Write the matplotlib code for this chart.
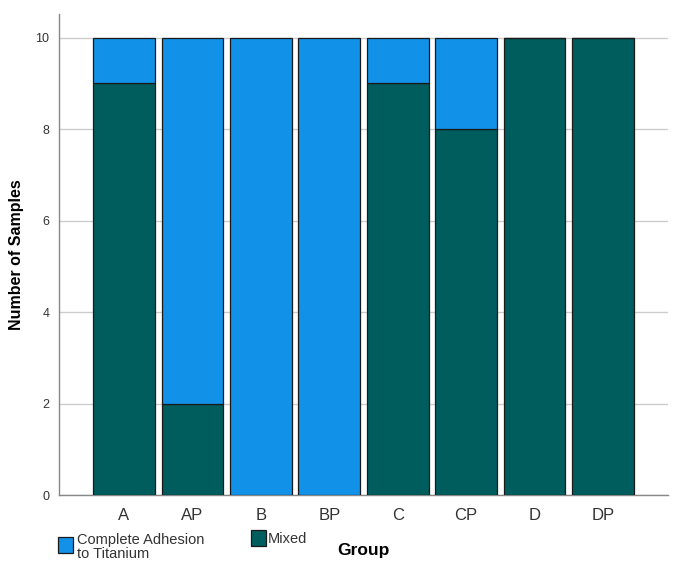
import numpy as np
import matplotlib
matplotlib.use("Agg")
import matplotlib.pyplot as plt
from matplotlib.patches import Rectangle

plt.rcParams['font.family'] = ['Liberation Sans', 'DejaVu Sans']

groups = ['A', 'AP', 'B', 'BP', 'C', 'CP', 'D', 'DP']
mixed = [9, 2, 0, 0, 9, 8, 10, 10]
complete = [1, 8, 10, 10, 1, 2, 0, 0]

c_complete = '#1192e8'
c_mixed = '#005d5d'

fig = plt.figure(figsize=(6.85, 5.72), dpi=100)
ax = fig.add_axes([59 / 685, 1 - 495 / 572, 609 / 685, 481 / 572])

x = np.arange(len(groups))
ax.bar(x, mixed, width=0.9, color=c_mixed, edgecolor='#1a1a1a', linewidth=0.9, zorder=3)
ax.bar(x, complete, width=0.9, bottom=mixed, color=c_complete, edgecolor='#1a1a1a',
       linewidth=0.9, zorder=3)

ax.set_xlim(-0.95, len(groups) - 0.05)
ax.set_ylim(0, 10.52)
ax.set_yticks([0, 2, 4, 6, 8, 10])
ax.set_xticks(x)
ax.set_xticklabels(groups, fontsize=12, color='#333333')
ax.tick_params(axis='y', length=0, labelsize=9, pad=7, labelcolor='#333333')
ax.tick_params(axis='x', length=0, pad=9)
ax.grid(axis='y', color='#cccccc', linewidth=1, zorder=0)

for s in ['top', 'right']:
    ax.spines[s].set_visible(False)
for s in ['left', 'bottom']:
    ax.spines[s].set_color('#888888')
    ax.spines[s].set_linewidth(1)

ax.set_ylabel('Number of Samples', fontsize=11.5, fontweight='bold', labelpad=8)
fig.text(363 / 685, 1 - 550 / 572, 'Group', ha='center', va='center',
         fontsize=12.5, fontweight='bold')

# legend
W, H = 685, 572
def leg_box(px, py, color):
    fig.add_artist(Rectangle((px / W, 1 - (py + 16) / H), 15 / W, 16 / H,
                             transform=fig.transFigure, facecolor=color,
                             edgecolor='#1a1a1a', linewidth=0.9))

leg_box(58, 537, c_complete)
fig.text(77 / W, 1 - 547 / H, 'Complete Adhesion\nto Titanium', ha='left', va='center',
         fontsize=10.5, linespacing=1.05, color='#333333')
leg_box(251, 530, c_mixed)
fig.text(268 / W, 1 - 539 / H, 'Mixed', ha='left', va='center', fontsize=10.5, color='#333333')

fig.savefig('out.png', dpi=100)
